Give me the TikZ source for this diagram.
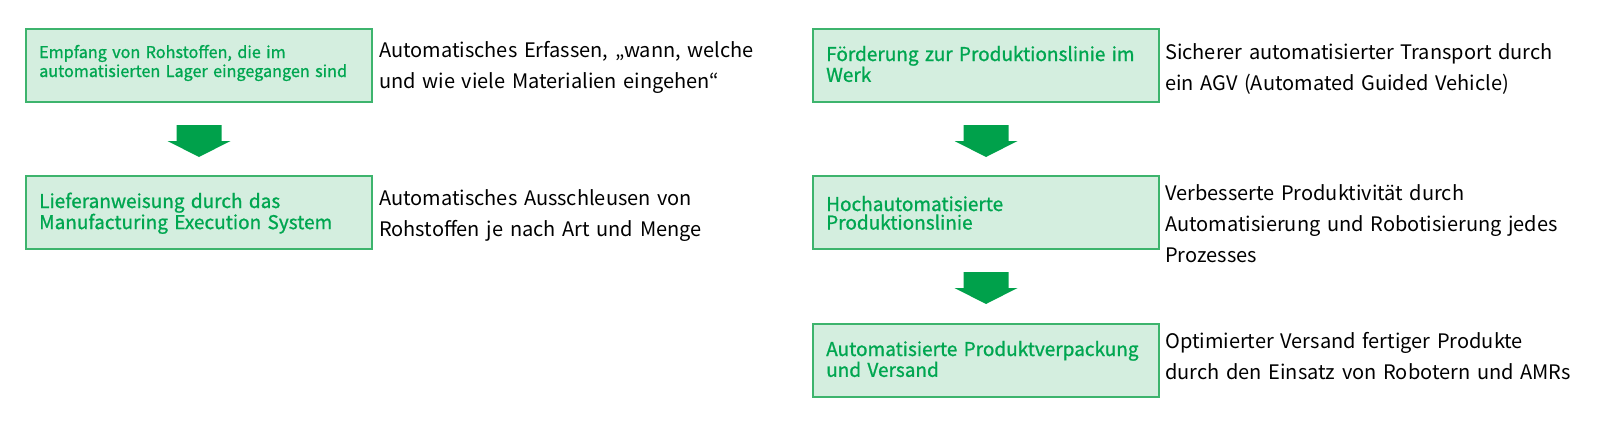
\documentclass[tikz,border=0pt]{standalone}
\usepackage{fontspec}
\setmainfont{Noto Sans CJK JP}
\newfontfamily\boxfont{Noto Sans CJK JP}[FakeBold=1.0]
\usetikzlibrary{calc}
\definecolor{boxfill}{HTML}{D4EEDF}
\definecolor{boxline}{HTML}{3DB46D}
\definecolor{boxtext}{HTML}{00A650}
\definecolor{arrowgreen}{HTML}{00A14B}
\tikzset{
  stepbox/.style={draw=boxline, line width=2pt, fill=boxfill, minimum width=346pt, minimum height=73pt, inner sep=0pt, anchor=north west},
  boxlabel/.style={anchor=base west, inner sep=0pt, text width=330pt, align=left, text=boxtext, font=\boxfont\fontsize{19}{18.5}\selectfont},
  smalllabel/.style={boxlabel, font=\boxfont\fontsize{16.2}{19}\selectfont},
  desc/.style={anchor=base west, inner sep=0pt, text width=420pt, align=left, text=black, font=\fontsize{20}{31}\selectfont},
  blockarrow/.style={fill=arrowgreen, draw=none}
}
\newcommand{\blockarrow}[1]{%
  \fill[blockarrow] ($(#1)+(-22.5,22)$) -- ($(#1)+(22.5,22)$) -- ($(#1)+(22.5,38)$) -- ($(#1)+(31.5,38)$)
    -- ($(#1)+(0,54)$) -- ($(#1)+(-31.5,38)$) -- ($(#1)+(-22.5,38)$) -- cycle;}
\begin{document}
\begin{tikzpicture}[x=1pt,y=-1pt]
\useasboundingbox (0,0) rectangle (1600,431);
% left column
\node[stepbox] (b1) at (25,28) {};
\node[smalllabel] (t1) at (39,58) {Empfang von Rohstoffen, die im\\automatisierten Lager eingegangen sind};
\node[stepbox] (b2) at (25,175) {};
\node[boxlabel] (t2) at (39,208) {Lieferanweisung durch das\\Manufacturing Execution System};
\coordinate (a1) at (b1.south);
\blockarrow{a1}
\node[desc] (d1) at (379,57) {Automatisches Erfassen, „wann, welche\\und wie viele Materialien eingehen“};
\node[desc] (d2) at (379,205) {Automatisches Ausschleusen von\\Rohstoffen je nach Art und Menge};
% right column
\node[stepbox] (b3) at (812,28) {};
\node[boxlabel] (t3) at (826,61) {Förderung zur Produktionslinie im\\Werk};
\node[stepbox] (b4) at (812,175) {};
\node[boxlabel] (t4) at (826,211) {Hochautomatisierte\\Produktionslinie};
\node[stepbox] (b5) at (812,323) {};
\node[boxlabel] (t5) at (826,356) {Automatisierte Produktverpackung\\und Versand};
\coordinate (a2) at (b3.south);
\blockarrow{a2}
\coordinate (a3) at (b4.south);
\blockarrow{a3}
\node[desc] (d3) at (1165,59) {Sicherer automatisierter Transport durch\\ein AGV (Automated Guided Vehicle)};
\node[desc] (d4) at (1165,200) {Verbesserte Produktivität durch\\Automatisierung und Robotisierung jedes\\Prozesses};
\node[desc] (d5) at (1165,348) {Optimierter Versand fertiger Produkte\\durch den Einsatz von Robotern und AMRs};
\end{tikzpicture}
\end{document}
